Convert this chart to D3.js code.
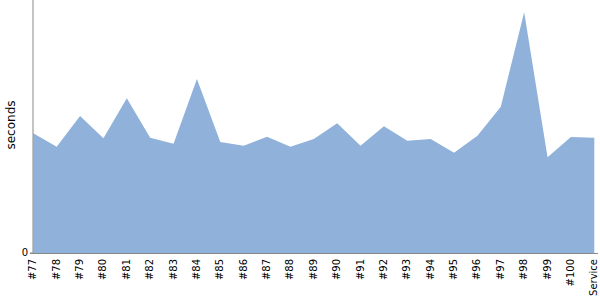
<!DOCTYPE html>
<html>
<head>
<meta charset="utf-8">
<script src="https://cdn.jsdelivr.net/npm/d3@7"></script>
<style>
  body { margin: 0; background: #fff; }
  text { font-family: "DejaVu Sans", sans-serif; }
</style>
</head>
<body>
<div id="chart"></div>
<script>
var builds = ["#77", "#78", "#79", "#80", "#81", "#82", "#83", "#84", "#85", "#86",
              "#87", "#88", "#89", "#90", "#91", "#92", "#93", "#94", "#95", "#96",
              "#97", "#98", "#99", "#100", "Service"];
var seconds = [11.83, 10.50, 13.54, 11.33, 15.29, 11.39, 10.80, 17.19, 10.97, 10.60,
               11.49, 10.50, 11.26, 12.82, 10.60, 12.52, 11.10, 11.26, 9.91, 11.59,
               14.46, 23.78, 9.46, 11.46, 11.39];
var yTicks = [0];

var margin = {top: 0, right: 5, bottom: 47, left: 33},
    width = 600 - margin.left - margin.right,
    height = 300 - margin.top - margin.bottom;

var svg = d3.select("#chart")
    .append("svg")
        .attr("width", 600)
        .attr("height", 300)
    .append("g")
        .attr("transform", "translate(" + margin.left + "," + margin.top + ")");

var x = d3.scalePoint()
    .domain(builds)
    .range([0.3, 561.3]);

var y = d3.scaleLinear()
    .domain([0, 25])
    .range([height, 0]);

var data = builds.map(function(b, i) { return {build: b, value: seconds[i]}; });

// the area
svg.append("path")
    .datum(data)
    .attr("fill", "#8fb1da")
    .attr("d", d3.area()
        .x(function(d) { return x(d.build); })
        .y0(y(0))
        .y1(function(d) { return y(d.value); }));

// y axis
svg.append("line")
    .attr("x1", 0).attr("x2", 0)
    .attr("y1", 0).attr("y2", height)
    .attr("stroke", "#888");

svg.selectAll(".ytick")
    .data(yTicks)
    .enter()
    .append("g")
        .attr("class", "ytick")
        .each(function(t) {
            var g = d3.select(this);
            g.append("line")
                .attr("x1", -3).attr("x2", 0)
                .attr("y1", y(t)).attr("y2", y(t))
                .attr("stroke", "#888");
            g.append("text")
                .attr("x", -5)
                .attr("y", y(t))
                .attr("text-anchor", "end")
                .attr("dominant-baseline", "middle")
                .style("font-size", "10px")
                .text(t);
        });

// x axis
svg.append("line")
    .attr("x1", -3).attr("x2", width + 3)
    .attr("y1", height + 0.5).attr("y2", height + 0.5)
    .attr("stroke", "#888");

svg.selectAll(".xlabel")
    .data(builds)
    .enter()
    .append("text")
        .attr("class", "xlabel")
        .attr("transform", function(d) { return "translate(" + x(d) + "," + (height + 6) + ")rotate(-90)"; })
        .attr("text-anchor", "end")
        .attr("dominant-baseline", "middle")
        .style("font-size", "10px")
        .text(function(d) { return d; });

// y label
svg.append("text")
    .attr("transform", "translate(" + (-18) + "," + 125 + ")rotate(-90)")
    .attr("text-anchor", "middle")
    .style("font-size", "12px")
    .text("seconds");
</script>
</body>
</html>
